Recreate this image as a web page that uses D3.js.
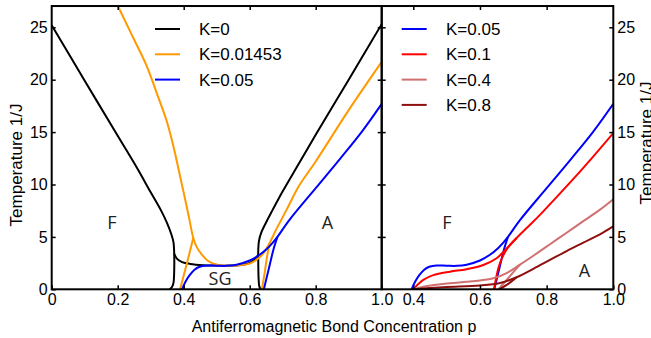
<!DOCTYPE html>
<html><head><meta charset="utf-8">
<script src="https://cdn.jsdelivr.net/npm/d3@7"></script>
<style>body{margin:0;background:#fff}svg{display:block}</style>
</head><body>
<script>
// ---- data (p, T) ----
const xTicksLeft = [0, 0.2, 0.4, 0.6, 0.8, 1.0];
const xTickLabelsLeft = ["0", "0.2", "0.4", "0.6", "0.8", "1.0"];
const xTicksRight = [0.4, 0.6, 0.8, 1.0];
const xTickLabelsRight = ["0.4", "0.6", "0.8", "1.0"];
const yTicks = [0, 5, 10, 15, 20, 25];
const yTickLabels = ["0", "5", "10", "15", "20", "25"];

// K=0 (black)
const k0Left = [[0,25.2],[0.1,19.9],[0.2,14.65],[0.26,11.5],[0.3,9.25],[0.33,7.6],[0.35,6.3],[0.362,5.3],[0.369,4.5],[0.371,3.6],[0.371,1.5],[0.369,0.6],[0.364,0.2],[0.357,0]];
const k0SG = [[0.371,3.4],[0.38,2.9],[0.395,2.6],[0.42,2.42],[0.46,2.3],[0.5,2.26],[0.54,2.26],[0.58,2.34],[0.6,2.52],[0.615,2.85],[0.626,3.3]];
const k0Right = [[0.633,0],[0.629,0.3],[0.627,1.0],[0.626,2.5],[0.626,3.8],[0.628,4.6],[0.635,5.4],[0.65,6.4],[0.67,7.6],[0.7,9.35],[0.75,12.05],[0.8,14.75],[0.9,20.0],[1.0,25.3]];
// K=0.01453 (orange)
const k01453Main = [[0.195,27.5],[0.2,27.1],[0.247,24.0],[0.288,21.3],[0.318,18.75],[0.348,16.1],[0.366,14.0],[0.38,12.1],[0.393,10.2],[0.405,8.5],[0.417,6.7],[0.429,4.9],[0.44,4.0],[0.455,3.3],[0.47,2.8],[0.49,2.45],[0.51,2.3],[0.55,2.25],[0.6,2.45],[0.62,2.8],[0.632,3.1],[0.645,3.6],[0.66,4.4],[0.677,5.5],[0.712,7.6],[0.75,9.9],[0.8,12.2],[0.9,17.1],[1.0,21.7]];
const k01453LowL = [[0.389,0],[0.409,2.4],[0.429,4.9]];
const k01453LowR = [[0.637,0],[0.645,1.5],[0.652,3.0],[0.66,4.4]];
// K=0.05 (blue)
const k005Main = [[0.395,0],[0.405,0.7],[0.418,1.35],[0.432,1.85],[0.448,2.15],[0.47,2.27],[0.5,2.25],[0.53,2.24],[0.56,2.35],[0.6,2.75],[0.63,3.3],[0.655,3.95],[0.67,4.45],[0.684,5.0],[0.72,6.6],[0.8,9.65],[0.875,12.5],[0.94,15.05],[1.0,17.7]];
const k005Low = [[0.643,0],[0.652,1.2],[0.662,2.5],[0.672,3.8],[0.684,5.0]];
// K=0.1 (red)
const k01Main = [[0.4,0],[0.415,0.5],[0.43,0.9],[0.46,1.35],[0.51,1.68],[0.56,1.92],[0.61,2.32],[0.65,2.96],[0.68,3.9],[0.71,4.9],[0.745,6.0],[0.78,7.1],[0.83,8.8],[0.885,10.7],[0.935,12.5],[1.0,14.9]];
const k01Low = [[0.642,0],[0.648,1.0],[0.655,2.0],[0.665,2.9],[0.68,3.8],[0.695,4.4],[0.71,4.9]];
// K=0.4 (light red)
const k04Main = [[0.4,0],[0.43,0.25],[0.46,0.4],[0.51,0.58],[0.56,0.72],[0.6,0.85],[0.64,1.05],[0.68,1.55],[0.72,2.35],[0.76,3.2],[0.81,4.3],[0.86,5.4],[0.91,6.5],[0.96,7.6],[1.0,8.6]];
const k04Low = [[0.655,0],[0.672,0.6],[0.695,1.45],[0.72,2.35]];
// K=0.8 (dark red)
const k08Main = [[0.4,0],[0.45,0.12],[0.5,0.22],[0.6,0.36],[0.66,0.6],[0.71,1.15],[0.76,1.95],[0.81,2.8],[0.86,3.65],[0.91,4.45],[0.96,5.25],[1.0,6.0]];
const k08Low = [[0.658,0],[0.685,0.52],[0.71,1.15]];

const leftSeries = [
  {name:"K=0", color:"#000000", branches:[k0Left, k0SG, k0Right]},
  {name:"K=0.01453", color:"#ff9900", branches:[k01453Main, k01453LowL, k01453LowR]},
  {name:"K=0.05", color:"#0000ff", branches:[k005Main, k005Low]}
];
const rightSeries = [
  {name:"K=0.05", color:"#0000ff", branches:[k005Main, k005Low]},
  {name:"K=0.1", color:"#ff0000", branches:[k01Main, k01Low]},
  {name:"K=0.4", color:"#d07070", branches:[k04Main, k04Low]},
  {name:"K=0.8", color:"#8e0f0f", branches:[k08Main, k08Low]}
];

// ---- layout ----
const W = 651, H = 338;
const yMax = 27.03;
const y = d3.scaleLinear().domain([0, 25]).range([289.3, 27.3]);
const xL = d3.scaleLinear().domain([0, 1]).range([51.7, 381.7]);
const xR = d3.scaleLinear().domain([0.4, 1]).range([413.3, 613.3]);
const topY = y(yMax), botY = y(0);
const tickFont = "'Liberation Sans', Arial, Helvetica, sans-serif";

const svg = d3.select("body").append("svg").attr("width", W).attr("height", H);
const defs = svg.append("defs");
defs.append("clipPath").attr("id","clipL").append("rect")
  .attr("x", xL(0)).attr("y", topY).attr("width", xL(1)-xL(0)).attr("height", botY-topY);
defs.append("clipPath").attr("id","clipR").append("rect")
  .attr("x", xL(1)).attr("y", topY).attr("width", xR(1)-xL(1)).attr("height", botY-topY);

function drawSeries(series, x, clip) {
  const g = svg.append("g").attr("clip-path", `url(#${clip})`);
  const line = d3.line().x(d => x(d[0])).y(d => y(d[1])).curve(d3.curveCatmullRom.alpha(0.5));
  series.forEach(s => s.branches.forEach(b => {
    g.append("path").attr("d", line(b)).attr("fill","none")
      .attr("stroke", s.color).attr("stroke-width", 2).attr("stroke-linejoin","round");
  }));
}
drawSeries(leftSeries, xL, "clipL");
drawSeries(rightSeries, xR, "clipR");

// axes
function styleAxis(g, labels) {
  g.select(".domain").remove();
  g.selectAll(".tick line").attr("stroke","#000").attr("stroke-width",1.5);
  g.selectAll(".tick text").attr("font-family", tickFont).attr("font-size", 16).attr("fill","#000");
  if (!labels) g.selectAll(".tick text").remove();
}
const tickLen = -4;
// left panel
styleAxis(svg.append("g").attr("transform",`translate(0,${botY})`)
  .call(d3.axisBottom(xL).tickValues(xTicksLeft).tickFormat((d,i)=>xTickLabelsLeft[i]).tickSizeInner(tickLen).tickSizeOuter(0).tickPadding(4)), true);
styleAxis(svg.append("g").attr("transform",`translate(0,${topY})`)
  .call(d3.axisTop(xL).tickValues(xTicksLeft.slice(1,-1)).tickSizeInner(tickLen).tickSizeOuter(0)), false);
styleAxis(svg.append("g").attr("transform",`translate(${xL(0)},0)`)
  .call(d3.axisLeft(y).tickValues(yTicks).tickFormat((d,i)=>yTickLabels[i]).tickSizeInner(tickLen).tickSizeOuter(0).tickPadding(4)), true);
styleAxis(svg.append("g").attr("transform",`translate(${xL(1)},0)`)
  .call(d3.axisRight(y).tickValues(yTicks.slice(1)).tickSizeInner(tickLen).tickSizeOuter(0)), false);
// right panel
styleAxis(svg.append("g").attr("transform",`translate(0,${botY})`)
  .call(d3.axisBottom(xR).tickValues(xTicksRight).tickFormat((d,i)=>xTickLabelsRight[i]).tickSizeInner(tickLen).tickSizeOuter(0).tickPadding(4)), true);
styleAxis(svg.append("g").attr("transform",`translate(0,${topY})`)
  .call(d3.axisTop(xR).tickValues(xTicksRight.slice(0,-1)).tickSizeInner(tickLen).tickSizeOuter(0)), false);
styleAxis(svg.append("g").attr("transform",`translate(${xL(1)},0)`)
  .call(d3.axisLeft(y).tickValues(yTicks.slice(1)).tickSizeInner(tickLen).tickSizeOuter(0)), false);
styleAxis(svg.append("g").attr("transform",`translate(${xR(1)},0)`)
  .call(d3.axisRight(y).tickValues(yTicks).tickFormat((d,i)=>yTickLabels[i]).tickSizeInner(tickLen).tickSizeOuter(0).tickPadding(4)), true);

// frames
svg.append("rect").attr("x", xL(0)).attr("y", topY).attr("width", xL(1)-xL(0)).attr("height", botY-topY)
  .attr("fill","none").attr("stroke","#000").attr("stroke-width",2);
svg.append("rect").attr("x", xL(1)).attr("y", topY).attr("width", xR(1)-xL(1)).attr("height", botY-topY)
  .attr("fill","none").attr("stroke","#000").attr("stroke-width",2);

// axis titles
svg.append("text").attr("x", 334).attr("y", 332).attr("text-anchor","middle")
  .attr("font-family", tickFont).attr("font-size", 16).text("Antiferromagnetic Bond Concentration p");
svg.append("text").attr("transform","translate(22,165) rotate(-90)").attr("text-anchor","middle")
  .attr("font-family", tickFont).attr("font-size", 17).text("Temperature 1/J");
svg.append("text").attr("transform","translate(652,143) rotate(-90)").attr("text-anchor","middle")
  .attr("font-family", tickFont).attr("font-size", 17).text("Temperature 1/J");

// legends
function legend(series, lx0, lx1, tx) {
  series.forEach((s, i) => {
    const yy = 29 + i * 25.3;
    svg.append("line").attr("x1", lx0).attr("x2", lx1).attr("y1", yy).attr("y2", yy)
      .attr("stroke", s.color).attr("stroke-width", 2);
    svg.append("text").attr("x", tx).attr("y", yy).attr("dy","0.35em")
      .attr("font-family", tickFont).attr("font-size", 17).text(s.name);
  });
}
legend(leftSeries, 155, 180, 199);
legend(rightSeries, 401.7, 426.7, 446);

// region labels
const regionLabels = [
  {t:"F", x:112, y:228.5}, {t:"SG", x:220, y:285}, {t:"A", x:327.5, y:229},
  {t:"F", x:447, y:229}, {t:"A", x:584.5, y:277}
];
regionLabels.forEach(r => svg.append("text").attr("x", r.x).attr("y", r.y).attr("text-anchor","middle")
  .attr("font-family","'Open Sans', 'Noto Sans', sans-serif").attr("font-size", 18).attr("fill","#222").text(r.t));
</script>
</body></html>
